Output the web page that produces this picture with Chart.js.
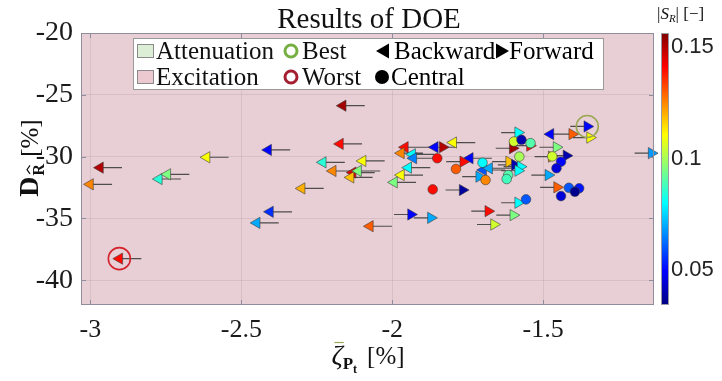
<!DOCTYPE html>
<html>
<head>
<meta charset="utf-8">
<script src="https://cdn.jsdelivr.net/npm/chart.js@4.4.1/dist/chart.umd.min.js"></script>
<style>
  body { margin: 0; background: #fff; }
  canvas { display: block; }
</style>
</head>
<body>
<canvas id="doe-chart" width="722" height="381"></canvas>
<script>
// axes and colour scale
const xTicks = [-3, -2.5, -2, -1.5];
const yTicks = [-40, -35, -30, -25, -20];
const srTicks = [0.05, 0.1, 0.15];
const xRange = [-3.031, -1.133];
const yRange = [-42, -20];
const srRange = [0.0343, 0.1563];

// backward runs (marker points left)
const backX = [-2.968, -3.001, -2.773, -2.745, -2.615, -2.411, -2.300, -2.405, -2.449, -2.904,
               -2.164, -2.173, -2.230, -2.098, -2.197, -2.131, -2.113, -2.138, -2.074, -1.958,
               -1.971, -1.934, -1.930, -1.947, -1.971, -1.994, -1.859, -1.798, -1.743, -1.699,
               -1.679, -1.476];
const backY = [-30.89, -32.24, -31.81, -31.43, -30.05, -29.46, -32.57, -34.46, -35.36, -38.25,
               -25.88, -28.97, -30.46, -30.35, -31.16, -31.29, -31.16, -31.68, -35.63, -29.24,
               -29.72, -29.81, -30.13, -30.89, -31.49, -32.08, -29.24, -28.86, -30.13, -31.08,
               -30.94, -28.18];
const backSR = [0.150, 0.125, 0.085, 0.095, 0.110, 0.050, 0.120, 0.055, 0.070, 0.140,
                0.152, 0.140, 0.085, 0.110, 0.125, 0.145, 0.095, 0.118, 0.130, 0.140,
                0.125, 0.080, 0.065, 0.080, 0.110, 0.095, 0.050, 0.110, 0.050, 0.060,
                0.070, 0.050];

// forward runs (marker points right)
const fwdX = [-1.833, -1.767, -1.938, -1.872, -1.682, -1.663, -1.765, -1.712, -1.583, -1.601,
              -1.544, -1.613, -1.594, -1.575, -1.583, -1.583, -1.599, -1.404, -1.354, -1.345,
              -1.456, -1.472, -1.423, -1.483, -1.454, -1.141];
const fwdY = [-29.24, -32.70, -34.68, -34.95, -34.41, -35.49, -30.41, -31.62, -28.05, -29.32,
              -29.11, -30.41, -30.67, -30.81, -31.14, -33.73, -34.73, -28.18, -27.56, -28.46,
              -29.24, -30.00, -29.92, -31.49, -32.48, -29.72];
const fwdSR = [0.150, 0.038, 0.050, 0.070, 0.140, 0.105, 0.140, 0.070, 0.080, 0.152,
               0.140, 0.118, 0.040, 0.080, 0.080, 0.080, 0.095, 0.130, 0.050, 0.110,
               0.095, 0.122, 0.040, 0.070, 0.130, 0.068];

// central runs
const cenX = [-1.851, -1.866, -1.789, -1.701, -1.691, -1.616, -1.621, -1.597, -1.572, -1.542,
              -1.579, -1.557, -1.441, -1.456, -1.415, -1.381, -1.395, -1.441, -1.470];
const cenY = [-30.13, -32.65, -31.00, -30.49, -31.89, -31.49, -31.81, -28.78, -28.64, -28.91,
              -30.00, -33.46, -30.41, -30.94, -32.52, -32.56, -32.84, -33.19, -29.98];
const cenSR = [0.140, 0.140, 0.130, 0.080, 0.125, 0.090, 0.088, 0.105, 0.040, 0.090,
               0.100, 0.060, 0.050, 0.045, 0.060, 0.052, 0.036, 0.045, 0.105];

// highlighted runs
const bestX = [-1.354];
const bestY = [-27.56];
const worstX = [-2.904];
const worstY = [-38.25];

const SERIF = '"Liberation Serif", "DejaVu Serif", serif';
const SANS = '"Liberation Sans", Arial, sans-serif';
const PLOT_BG = '#e8ced5';

function jetRGB(t) {
    const c = k => Math.round(255 * Math.min(1, Math.max(0, 1.5 - Math.abs(4 * t - k))));
    return [c(3), c(2), c(1)];
}

function jet(v) {
    const t = Math.min(1, Math.max(0, (v - srRange[0]) / (srRange[1] - srRange[0])));
    const [r, g, b] = jetRGB(t);
    return `rgb(${r},${g},${b})`;
}

function pts(xs, ys) {
    return xs.map((x, i) => ({ x: x, y: ys[i] }));
}

// pink fill behind the axes
const plotBackground = {
    id: 'plotBackground',
    beforeDraw(chart) {
        const { ctx, chartArea: a } = chart;
        ctx.save();
        ctx.fillStyle = PLOT_BG;
        ctx.fillRect(a.left, a.top, a.right - a.left, a.bottom - a.top);
        ctx.restore();
    }
};

// short shafts behind the arrow markers
const arrowTails = {
    id: 'arrowTails',
    beforeDatasetsDraw(chart) {
        const { ctx } = chart;
        const x = chart.scales.x, y = chart.scales.y;
        ctx.save();
        ctx.strokeStyle = '#4d4d4d';
        ctx.lineWidth = 1.2;
        ctx.beginPath();
        backX.forEach((v, i) => {
            const px = x.getPixelForValue(v), py = y.getPixelForValue(backY[i]);
            ctx.moveTo(px, py);
            ctx.lineTo(px + 22, py);
        });
        fwdX.forEach((v, i) => {
            const px = x.getPixelForValue(v), py = y.getPixelForValue(fwdY[i]);
            ctx.moveTo(px, py);
            ctx.lineTo(px - 17, py);
        });
        ctx.stroke();
        ctx.restore();
    }
};

// box around the axes with inward ticks, plus colour bar
const frameAndColorbar = {
    id: 'frameAndColorbar',
    afterDatasetsDraw(chart) {
        const { ctx, chartArea: a } = chart;
        const x = chart.scales.x, y = chart.scales.y, c = chart.scales.c;
        ctx.save();
        ctx.strokeStyle = '#8d8d9b';
        ctx.lineWidth = 1;
        ctx.strokeRect(a.left + 0.5, a.top + 0.5, a.right - a.left - 1, a.bottom - a.top - 1);
        ctx.beginPath();
        xTicks.forEach(v => {
            const px = Math.round(x.getPixelForValue(v)) + 0.5;
            ctx.moveTo(px, a.bottom); ctx.lineTo(px, a.bottom - 5);
            ctx.moveTo(px, a.top); ctx.lineTo(px, a.top + 5);
        });
        yTicks.forEach(v => {
            const py = Math.round(y.getPixelForValue(v)) + 0.5;
            ctx.moveTo(a.left, py); ctx.lineTo(a.left + 5, py);
            ctx.moveTo(a.right, py); ctx.lineTo(a.right - 5, py);
        });
        ctx.stroke();

        // colour bar
        const top = c.getPixelForValue(srRange[1]);
        const bottom = c.getPixelForValue(srRange[0]);
        const bx = c.left + 7, bw = 8;
        const grad = ctx.createLinearGradient(0, bottom, 0, top);
        [0, 0.125, 0.375, 0.625, 0.875, 1].forEach(t => {
            const [r, g, b] = jetRGB(t);
            grad.addColorStop(t, `rgb(${r},${g},${b})`);
        });
        ctx.fillStyle = grad;
        ctx.fillRect(bx, top, bw, bottom - top);
        ctx.strokeStyle = '#9a9aa6';
        ctx.strokeRect(bx + 0.5, top + 0.5, bw - 1, bottom - top - 1);
        ctx.restore();
    }
};

function drawLegend(ctx) {
    const bx = 133, by = 38, bw = 470, bh = 51;
    ctx.save();
    ctx.fillStyle = '#ffffff';
    ctx.fillRect(bx, by, bw, bh);
    ctx.strokeStyle = '#9a9a9a';
    ctx.lineWidth = 1;
    ctx.strokeRect(bx + 0.5, by + 0.5, bw, bh);

    const rows = [51, 77];
    ctx.font = '25px ' + SERIF;
    ctx.textBaseline = 'middle';
    ctx.fillStyle = '#111';

    // patches
    [['#ddeed6', 'Attenuation'], ['#ecc9d1', 'Excitation']].forEach(([col, txt], i) => {
        ctx.fillStyle = col;
        ctx.fillRect(137, rows[i] - 7, 17, 14);
        ctx.strokeStyle = '#8a8a8a';
        ctx.strokeRect(137.5, rows[i] - 6.5, 16, 13);
        ctx.fillStyle = '#111';
        ctx.fillText(txt, 156, rows[i] + 1);
    });

    // best / worst rings
    [['#76b043', 'Best'], ['#a41f31', 'Worst']].forEach(([col, txt], i) => {
        ctx.strokeStyle = col;
        ctx.lineWidth = 3;
        ctx.beginPath();
        ctx.arc(291, rows[i], 6, 0, Math.PI * 2);
        ctx.stroke();
        ctx.fillStyle = '#111';
        ctx.fillText(txt, 302, rows[i] + 1);
    });

    // direction markers
    ctx.fillStyle = '#000';
    ctx.beginPath();
    ctx.moveTo(376, rows[0]); ctx.lineTo(389, rows[0] - 7.5); ctx.lineTo(389, rows[0] + 7.5);
    ctx.closePath(); ctx.fill();
    ctx.fillText('Backward', 394, rows[0] + 1);
    ctx.beginPath();
    ctx.moveTo(509, rows[0]); ctx.lineTo(496, rows[0] - 7.5); ctx.lineTo(496, rows[0] + 7.5);
    ctx.closePath(); ctx.fill();
    ctx.fillText('Forward', 509, rows[0] + 1);
    ctx.beginPath();
    ctx.arc(382, rows[1], 7, 0, Math.PI * 2);
    ctx.fill();
    ctx.fillText('Central', 391, rows[1] + 1);
    ctx.restore();
}

function drawTitles(ctx) {
    ctx.save();
    ctx.fillStyle = '#111';
    ctx.textBaseline = 'alphabetic';

    // chart title
    ctx.font = '29px ' + SERIF;
    ctx.textAlign = 'center';
    ctx.fillText('Results of DOE', 369, 28);
    ctx.textAlign = 'left';

    // y-axis title: D with hatted R subscript, then [%]
    ctx.save();
    ctx.translate(20, 158);
    ctx.rotate(-Math.PI / 2);
    const fD = 'bold 28px ' + SERIF, fR = 'bold 16px ' + SERIF, fU = '25px ' + SERIF;
    ctx.font = fD; const wD = ctx.measureText('D').width;
    ctx.font = fR; const wR = ctx.measureText('R').width;
    ctx.font = fU; const wU = ctx.measureText('[%]').width;
    let px = -(wD + 1 + wR + 7 + wU) / 2;
    ctx.font = fD; ctx.fillText('D', px, 18); px += wD + 1;
    ctx.font = fR; ctx.fillText('R', px, 24);
    ctx.strokeStyle = '#111'; ctx.lineWidth = 1.2;
    ctx.beginPath();
    ctx.moveTo(px + 1.5, 10); ctx.lineTo(px + wR / 2, 7); ctx.lineTo(px + wR - 1.5, 10);
    ctx.stroke();
    px += wR + 7;
    ctx.font = fU; ctx.fillText('[%]', px, 18);
    ctx.restore();

    // x-axis title: barred zeta with bold P_t subscript, then [%]
    const fZ = 'italic 28px ' + SERIF, fP = 'bold 17px ' + SERIF, ft = 'bold 12px ' + SERIF;
    ctx.font = fZ; const wZ = ctx.measureText('ζ').width;
    ctx.font = fP; const wP = ctx.measureText('P').width;
    ctx.font = ft; const wt = ctx.measureText('t').width;
    ctx.font = fU; const wU2 = ctx.measureText('[%]').width;
    const base = 364;
    let qx = 368 - (wZ + wP + wt + 10 + wU2) / 2;
    ctx.font = fZ; ctx.fillText('ζ', qx, base);
    ctx.lineWidth = 1.2;
    ctx.beginPath();
    ctx.moveTo(qx + 3, base - 21.5); ctx.lineTo(qx + wZ + 1, base - 21.5);
    ctx.stroke();
    qx += wZ;
    ctx.font = fP; ctx.fillText('P', qx, base + 5); qx += wP;
    ctx.font = ft; ctx.fillText('t', qx, base + 9); qx += wt + 10;
    ctx.font = fU; ctx.fillText('[%]', qx, base);

    // colour bar title
    const fI = 'italic 17px ' + SERIF, fS = 'italic 11px ' + SERIF, fN = '17px ' + SERIF;
    let cx = 657;
    ctx.font = fN; ctx.fillText('|', cx, 19); cx += ctx.measureText('|').width;
    ctx.font = fI; ctx.fillText('S', cx, 19); cx += ctx.measureText('S').width;
    ctx.font = fS; ctx.fillText('R', cx, 22); cx += ctx.measureText('R').width;
    ctx.font = fN; ctx.fillText('| [\u2212]', cx, 19);
    ctx.restore();
}

const annotations = {
    id: 'annotations',
    afterDraw(chart) {
        drawLegend(chart.ctx);
        drawTitles(chart.ctx);
    }
};

const markerBorder = '#3c3c3c';

new Chart(document.getElementById('doe-chart').getContext('2d'), {
    type: 'scatter',
    data: {
        datasets: [
            {
                label: 'Best',
                data: pts(bestX, bestY),
                pointStyle: 'circle',
                pointRadius: 11,
                pointBackgroundColor: 'rgba(0,0,0,0)',
                pointBorderColor: '#98a851',
                pointBorderWidth: 1.6,
                clip: false
            },
            {
                label: 'Worst',
                data: pts(worstX, worstY),
                pointStyle: 'circle',
                pointRadius: 11,
                pointBackgroundColor: 'rgba(0,0,0,0)',
                pointBorderColor: '#d3232c',
                pointBorderWidth: 1.6,
                clip: false
            },
            {
                label: 'Central',
                data: pts(cenX, cenY),
                pointStyle: 'circle',
                pointRadius: 4.8,
                pointBackgroundColor: cenSR.map(jet),
                pointBorderColor: markerBorder,
                pointBorderWidth: 0.6,
                clip: false
            },
            {
                label: 'Forward',
                data: pts(fwdX, fwdY),
                pointStyle: 'triangle',
                pointRotation: 90,
                pointRadius: 6.5,
                pointBackgroundColor: fwdSR.map(jet),
                pointBorderColor: markerBorder,
                pointBorderWidth: 0.6,
                clip: false
            },
            {
                label: 'Backward',
                data: pts(backX, backY),
                pointStyle: 'triangle',
                pointRotation: -90,
                pointRadius: 6.5,
                pointBackgroundColor: backSR.map(jet),
                pointBorderColor: markerBorder,
                pointBorderWidth: 0.6,
                clip: false
            }
        ]
    },
    options: {
        responsive: false,
        animation: false,
        events: [],
        layout: { padding: { left: 0, right: 0, top: 33, bottom: 0 } },
        plugins: {
            legend: { display: false },
            title: { display: false },
            tooltip: { enabled: false }
        },
        scales: {
            x: {
                type: 'linear',
                min: xRange[0],
                max: xRange[1],
                afterBuildTicks: s => { s.ticks = xTicks.map(v => ({ value: v })); },
                afterFit: s => { s.height = 76; },
                grid: { color: 'rgba(120,95,110,0.14)', drawTicks: false },
                border: { display: false },
                ticks: {
                    padding: 10,
                    color: '#1a1a1a',
                    font: { family: SERIF, size: 26 },
                    maxRotation: 0,
                    callback: v => String(v)
                }
            },
            y: {
                type: 'linear',
                min: yRange[0],
                max: yRange[1],
                afterBuildTicks: s => { s.ticks = yTicks.map(v => ({ value: v })); },
                afterFit: s => { s.width = 81; },
                grid: { color: 'rgba(120,95,110,0.14)', drawTicks: false },
                border: { display: false },
                ticks: {
                    padding: 8,
                    color: '#1a1a1a',
                    font: { family: SERIF, size: 28 },
                    callback: v => String(v)
                }
            },
            c: {
                type: 'linear',
                display: true,
                position: 'right',
                min: srRange[0],
                max: srRange[1],
                afterBuildTicks: s => { s.ticks = srTicks.map(v => ({ value: v })); },
                afterFit: s => { s.width = 68; },
                grid: { display: false, drawTicks: false },
                border: { display: false },
                ticks: {
                    padding: 17,
                    color: '#222',
                    font: { family: SANS, size: 22 },
                    callback: v => String(v)
                }
            }
        }
    },
    plugins: [plotBackground, arrowTails, frameAndColorbar, annotations]
});
</script>
</body>
</html>
